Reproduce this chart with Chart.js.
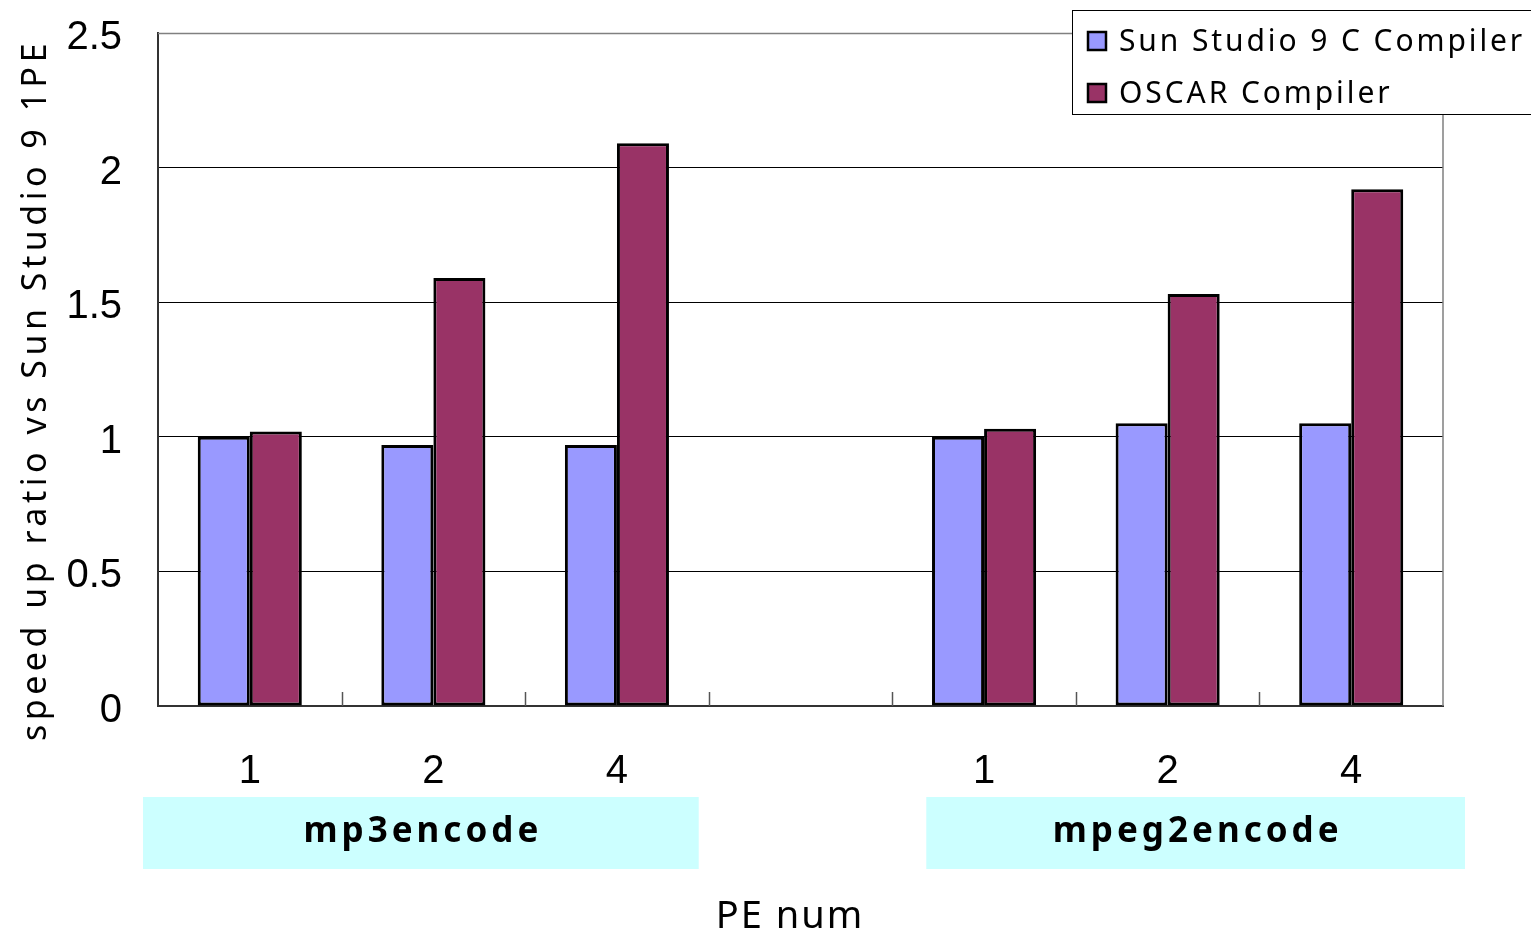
<!DOCTYPE html>
<html><head><meta charset="utf-8">
<script src="https://cdn.jsdelivr.net/npm/chart.js@4"></script>
<style>html,body{margin:0;padding:0;background:#fff;}#wrap{width:1531px;height:936px;}</style>
</head><body><div id="wrap"><canvas id="c" width="1531" height="936"></canvas></div>
<script>
const categories = ['1', '2', '4', '', '1', '2', '4'];
const sunStudio = [1.0, 0.97, 0.97, null, 1.0, 1.05, 1.05];
const oscar = [1.02, 1.59, 2.09, null, 1.03, 1.53, 1.92];
const seriesNames = ['Sun Studio 9 C Compiler', 'OSCAR Compiler'];
const groupNames = ['mp3encode', 'mpeg2encode'];
const groupRanges = [[0, 2], [4, 6]];
const yTicks = [0, 0.5, 1, 1.5, 2, 2.5];
const yTitle = 'speed up ratio vs Sun Studio 9 1PE';
const xTitle = 'PE num';

const SANS = '"Noto Sans", "DejaVu Sans", sans-serif';
const NARROW = '"Liberation Sans Narrow", "Liberation Sans", sans-serif';

const decor = {
  id: 'decor',
  beforeDatasetsDraw(chart) {
    const {ctx, chartArea: a} = chart;
    ctx.save();
    ctx.strokeStyle = '#808080';
    ctx.lineWidth = 1.5;
    ctx.beginPath();
    ctx.moveTo(a.left, a.top + 0.5); ctx.lineTo(a.right, a.top + 0.5);
    ctx.lineTo(a.right, a.bottom);
    ctx.stroke();
    const x = chart.scales.x;
    const half = (x.getPixelForValue(1) - x.getPixelForValue(0)) / 2;
    ctx.strokeStyle = '#555';
    ctx.lineWidth = 1.5;
    for (let i = 0; i < categories.length - 1; i++) {
      const px = Math.round(x.getPixelForValue(i) + half) + 0.5;
      ctx.beginPath(); ctx.moveTo(px, a.bottom); ctx.lineTo(px, a.bottom - 14); ctx.stroke();
    }
    ctx.restore();
  },
  afterDraw(chart) {
    const {ctx} = chart;
    const x = chart.scales.x;
    const half = (x.getPixelForValue(1) - x.getPixelForValue(0)) / 2;
    ctx.save();
    const offs = [[-15, -10], [34, 22]];
    groupRanges.forEach((r, gi) => {
      const l = x.getPixelForValue(r[0]) - half + offs[gi][0];
      const rr = x.getPixelForValue(r[1]) + half + offs[gi][1];
      ctx.fillStyle = '#CCFFFF';
      ctx.fillRect(l, 797, rr - l, 72);
      ctx.fillStyle = '#000';
      ctx.font = 'bold 35px ' + SANS;
      ctx.letterSpacing = '4px';
      ctx.textAlign = 'center';
      ctx.textBaseline = 'middle';
      ctx.fillText(groupNames[gi], (l + rr) / 2 + 2, 832);
    });
    ctx.letterSpacing = '2px';
    ctx.font = '38px ' + SANS;
    ctx.textAlign = 'center';
    ctx.textBaseline = 'middle';
    ctx.fillText(xTitle, 790, 917);
    ctx.save();
    ctx.translate(36, 390);
    ctx.rotate(-Math.PI / 2);
    ctx.font = '34px ' + SANS;
    ctx.letterSpacing = '4.5px';
    ctx.fillText(yTitle, 0, 0);
    ctx.restore();
    ctx.fillStyle = '#fff';
    ctx.fillRect(1072, 10, 480, 104);
    ctx.strokeStyle = '#000';
    ctx.lineWidth = 1;
    ctx.strokeRect(1072.5, 10.5, 480, 104);
    chart.data.datasets.forEach((ds, i) => {
      const yy = 31 + i * 52;
      ctx.fillStyle = ds.backgroundColor;
      ctx.fillRect(1087, yy, 20, 20);
      ctx.strokeStyle = '#000';
      ctx.lineWidth = 2.5;
      ctx.strokeRect(1088, yy + 1, 18, 18);
      ctx.fillStyle = '#000';
      ctx.font = '30px ' + SANS;
      ctx.letterSpacing = '2.9px';
      ctx.textAlign = 'left';
      ctx.textBaseline = 'middle';
      ctx.fillText(ds.label, 1119, yy + 11);
    });
    ctx.restore();
  }
};

new Chart(document.getElementById('c'), {
  type: 'bar',
  data: {
    labels: categories,
    datasets: [
      {label: seriesNames[0], data: sunStudio, backgroundColor: '#9999FF', borderColor: '#000', borderWidth: 3, borderSkipped: false},
      {label: seriesNames[1], data: oscar, backgroundColor: '#993366', borderColor: '#000', borderWidth: 3, borderSkipped: false}
    ]
  },
  options: {
    responsive: false,
    animation: false,
    devicePixelRatio: 1,
    layout: {padding: {top: 33, right: 88, left: 0, bottom: 0}},
    datasets: {bar: {categoryPercentage: 0.567, barPercentage: 1.0}},
    plugins: {legend: {display: false}, tooltip: {enabled: false}, title: {display: false}},
    scales: {
      x: {
        grid: {display: false, drawTicks: false},
        border: {color: '#333', width: 2},
        ticks: {font: {family: NARROW, size: 40}, color: '#000', padding: 42, maxRotation: 0},
        afterFit(s) { s.height = 230; s.paddingLeft = 0; s.paddingRight = 0; }
      },
      y: {
        min: 0, max: 2.5,
        afterBuildTicks(s) { s.ticks = yTicks.map(v => ({value: v})); },
        grid: {drawTicks: false, color: c => (c.tick && c.tick.value === 2.5) ? '#808080' : '#000', lineWidth: 1},
        border: {color: '#333', width: 2},
        ticks: {font: {family: NARROW, size: 40}, color: '#000', padding: 36, labelOffset: 5, callback: v => String(v)},
        afterFit(s) { s.width = 158; s.paddingTop = 0; s.paddingBottom = 0; }
      }
    }
  },
  plugins: [decor]
});
</script></body></html>
